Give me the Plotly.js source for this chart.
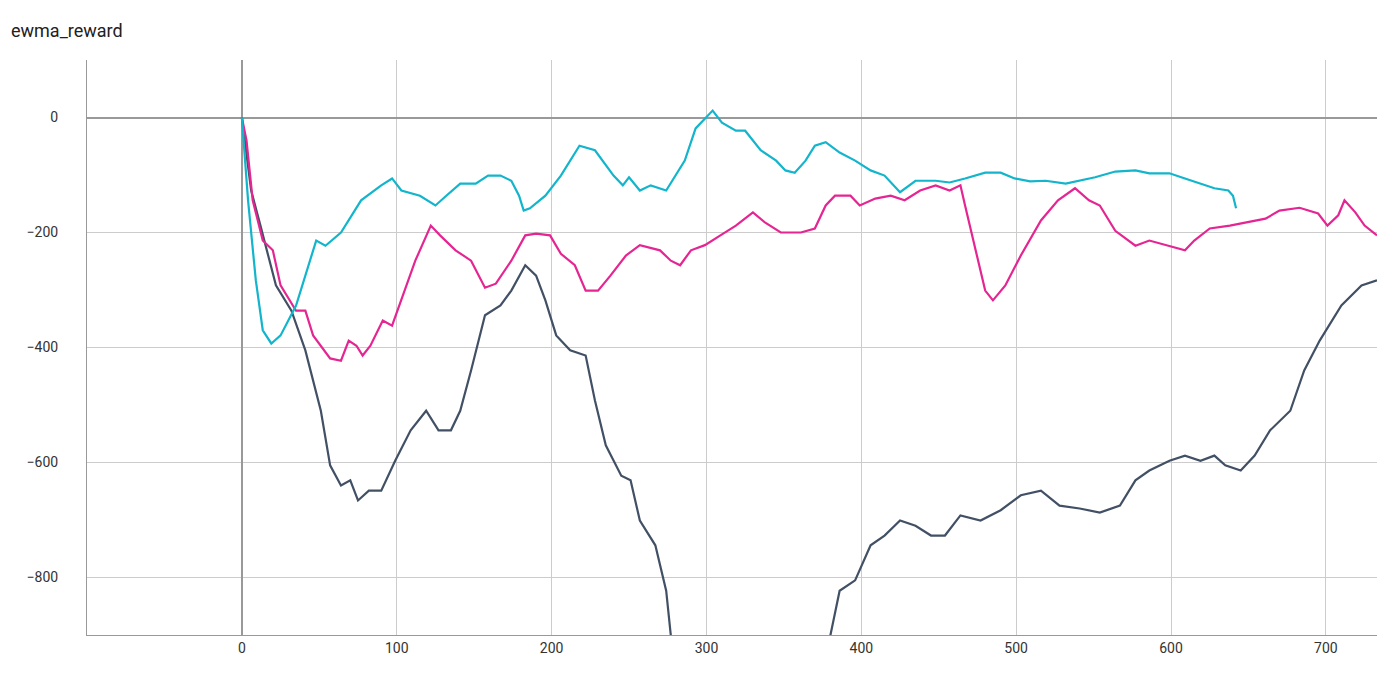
<!DOCTYPE html>
<html><head><meta charset="utf-8">
<script src="https://cdn.plot.ly/plotly-3.0.1.min.js"></script>
<style>body{margin:0;background:#fff}#chart{width:1377px;height:695px}</style>
</head><body><div id="chart"></div>
<script>
// cyan run
var cyanX = [0,4,9,13.5,19,25,35,48,54,64,77,90,97,103,115,125,132,141,151,159,167,174,179,182,186,196,206,218,228,240,246,250,257,264,274,286,293,304,310,319,325,335,345,351,357,364,370,377,386,396,406,415,425,435,448,457,467,480,490,499,509,519,532,541,551,564,577,586,599,609,619,628,637,640,642];
var cyanY = [0,-144,-283,-370,-393,-379,-327,-214,-223,-200,-144,-118,-106,-127,-136,-153,-136,-115,-115,-101,-101,-110,-136,-162,-158,-136,-101,-49,-57,-101,-118,-104,-127,-118,-127,-75,-19,12,-9,-23,-23,-57,-75,-92,-96,-75,-49,-43,-61,-75,-92,-101,-130,-110,-110,-113,-106,-96,-96,-106,-111,-110,-115,-110,-104,-94,-92,-97,-97,-106,-115,-123,-127,-136,-158];
// pink run
var pinkX = [0,3,7,13.5,20,25,35,41,46,51,57,64,69,74,78,83,91,97,103,112,122,128,138,148,157,164,174,183,190,199,206,215,222,230,238,248,257,270,277,283,290,299,309,319,330,338,348,361,370,377,383,393,399,409,419,428,438,448,457,464,467,474,480,485,493,503,516,527,538,547,554,564,577,586,599,609,615,625,638,648,661,670,683,695,701,708,712,719,725,733];
var pinkY = [0,-40,-144,-214,-231,-292,-336,-336,-379,-397,-419,-423,-388,-397,-414,-397,-353,-362,-318,-249,-188,-205,-231,-249,-296,-289,-249,-205,-202,-205,-237,-257,-301,-301,-275,-240,-222,-231,-249,-257,-231,-222,-205,-188,-165,-183,-200,-200,-193,-153,-136,-136,-153,-141,-136,-144,-127,-118,-127,-118,-153,-231,-301,-318,-292,-240,-179,-144,-123,-144,-153,-197,-223,-214,-223,-231,-214,-193,-188,-183,-176,-162,-157,-167,-188,-170,-144,-165,-188,-205];
// dark run
var darkX = [0,6,12,22,32,41,51,57,64,70,75,82,90,99,109,119,127,135,141,148,157,167,174,183,190,196,203,212,222,228,235,245,251,257,267,274,277,290,330,370,380,386,396,406,415,425,435,445,454,464,477,490,503,516,528,541,554,567,577,586,599,609,619,628,635,645,654,664,677,686,696,710,723,733];
var darkY = [0,-127,-188,-292,-336,-405,-510,-605,-640,-631,-666,-649,-649,-597,-544,-510,-544,-544,-510,-440,-344,-327,-301,-257,-275,-318,-379,-405,-414,-492,-570,-623,-631,-701,-744,-823,-901,-1100,-1200,-950,-901,-823,-805,-744,-727,-701,-710,-727,-727,-692,-701,-683,-657,-649,-675,-680,-687,-675,-631,-614,-597,-588,-597,-588,-605,-614,-588,-544,-510,-440,-388,-327,-292,-283];

var tickX = [0,100,200,300,400,500,600,700];
var tickY = [0,-200,-400,-600,-800];

function tr(x, y, c) {
  return {x: x, y: y, mode: 'lines', type: 'scatter', line: {color: c, width: 2.2}, hoverinfo: 'none'};
}
var data = [tr(darkX, darkY, '#425066'), tr(pinkX, pinkY, '#e52592'), tr(cyanX, cyanY, '#12b5cb')];

var layout = {
  width: 1377, height: 695,
  showlegend: false,
  paper_bgcolor: '#fff', plot_bgcolor: '#fff',
  font: {family: 'Roboto, sans-serif', size: 14, color: '#333'},
  title: {text: 'ewma_reward', x: 0.008, xanchor: 'left', y: 0.965, font: {size: 18, color: '#212121'}},
  margin: {l: 87, r: 0, t: 60, b: 60},
  xaxis: {range: [-100, 733], tickvals: tickX, showgrid: true, gridcolor: '#cccccc',
    zeroline: true, zerolinecolor: '#999', zerolinewidth: 2,
    showline: true, linecolor: '#999', ticks: '', tickfont: {color: '#333'}},
  yaxis: {range: [-900, 100], tickvals: tickY, showgrid: true, gridcolor: '#cccccc',
    zeroline: true, zerolinecolor: '#999', zerolinewidth: 2,
    showline: true, linecolor: '#999', ticks: '', ticklabelstandoff: 25, tickfont: {color: '#333'}}
};
Plotly.newPlot('chart', data, layout, {displayModeBar: false, staticPlot: true});
</script></body></html>
